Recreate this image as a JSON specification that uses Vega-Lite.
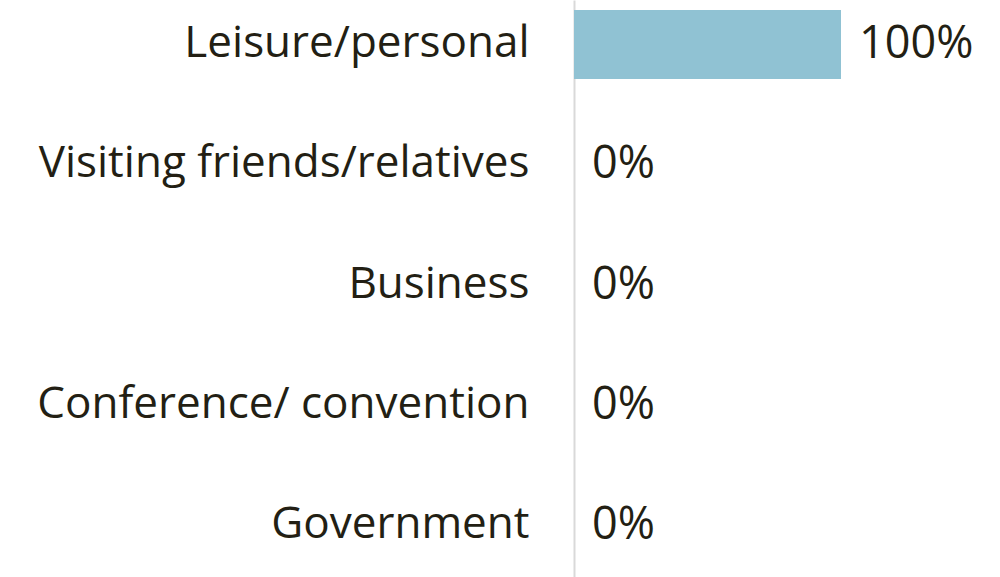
{
  "$schema": "https://vega.github.io/schema/vega-lite/v6.json",
  "width": 267,
  "height": 577,
  "autosize": {"type": "none"},
  "padding": {"left": 574, "top": 0, "right": 159, "bottom": 0},
  "background": "white",
  "config": {"view": {"stroke": null}},
  "data": {
    "values": [
      {"purpose": "Leisure/personal", "share": 1.0},
      {"purpose": "Visiting friends/relatives", "share": 0},
      {"purpose": "Business", "share": 0},
      {"purpose": "Conference/ convention", "share": 0},
      {"purpose": "Government", "share": 0}
    ]
  },
  "encoding": {
    "y": {
      "field": "purpose",
      "type": "nominal",
      "sort": null,
      "scale": {"paddingInner": 0.425, "paddingOuter": 0.1165, "align": 0.357},
      "axis": {
        "title": null,
        "ticks": false,
        "domainColor": "#d9d9d9",
        "domainWidth": 2,
        "labelFont": "Open Sans",
        "labelFontSize": 44,
        "labelColor": "#231f14",
        "labelPadding": 45,
        "labelLimit": 0
      }
    },
    "x": {
      "field": "share",
      "type": "quantitative",
      "scale": {"domain": [0, 1], "nice": false},
      "axis": null
    }
  },
  "layer": [
    {"mark": {"type": "bar", "color": "#90c2d3"}},
    {
      "mark": {"type": "text", "align": "left", "baseline": "middle", "dx": 18, "font": "Open Sans", "fontSize": 45, "color": "#231f14"},
      "encoding": {"text": {"field": "share", "type": "quantitative", "format": ".0%"}}
    }
  ]
}
